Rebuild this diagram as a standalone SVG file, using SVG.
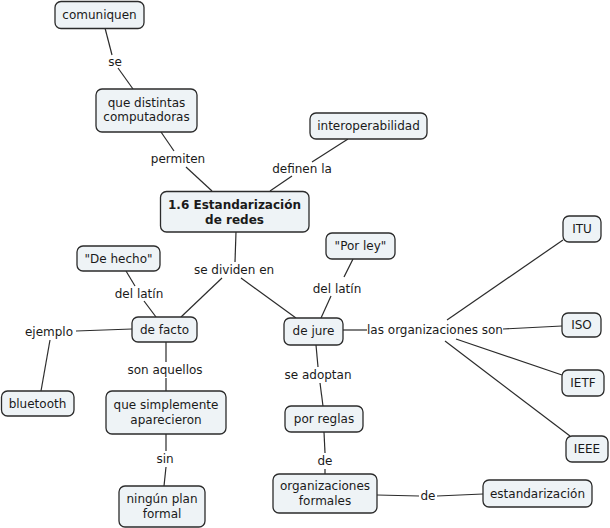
<svg xmlns="http://www.w3.org/2000/svg" width="610" height="528" viewBox="0 0 610 528">
<style>
.n rect{fill:#eef3f6;stroke:#2b2b2b;stroke-width:1.3}
text{font-family:"DejaVu Sans",Verdana,sans-serif;font-size:12px;fill:#1a1a1a;text-anchor:middle}
.b{font-weight:bold}
#c line{stroke:#2b2b2b;stroke-width:1.2}
</style>
<rect width="610" height="528" fill="#fff"/>
<g id="c">
<line x1="105" y1="28" x2="112" y2="55"/>
<line x1="118" y1="68" x2="133" y2="89"/>
<line x1="161" y1="132" x2="174" y2="151"/>
<line x1="186" y1="167" x2="212" y2="191"/>
<line x1="270" y1="191" x2="292" y2="176"/>
<line x1="312" y1="162" x2="348" y2="139"/>
<line x1="236" y1="232" x2="235" y2="262"/>
<line x1="222" y1="278" x2="181" y2="317"/>
<line x1="241" y1="278" x2="296" y2="318"/>
<line x1="126" y1="271" x2="135" y2="286"/>
<line x1="144" y1="301" x2="156" y2="317"/>
<line x1="353" y1="259" x2="344" y2="277"/>
<line x1="331" y1="296" x2="321" y2="318"/>
<line x1="132" y1="329" x2="76" y2="331"/>
<line x1="50" y1="340" x2="41" y2="391"/>
<line x1="166" y1="342" x2="166" y2="362"/>
<line x1="166" y1="378" x2="166" y2="391"/>
<line x1="166" y1="434" x2="166" y2="451"/>
<line x1="166" y1="467" x2="164" y2="486"/>
<line x1="343" y1="330" x2="367" y2="330"/>
<line x1="447" y1="320" x2="563" y2="240"/>
<line x1="503" y1="329" x2="562" y2="326"/>
<line x1="456" y1="339" x2="562" y2="375"/>
<line x1="445" y1="341" x2="570" y2="436"/>
<line x1="316" y1="345" x2="318" y2="367"/>
<line x1="320" y1="383" x2="323" y2="406"/>
<line x1="324" y1="432" x2="325" y2="453"/>
<line x1="325" y1="469" x2="325" y2="474"/>
<line x1="377" y1="495" x2="419" y2="496"/>
<line x1="437" y1="496" x2="483" y2="494"/>
</g>
<g id="labels">
<text x="115" y="66">se</text>
<text x="178" y="163">permiten</text>
<text x="302" y="173">definen la</text>
<text x="234" y="274">se dividen en</text>
<text x="139" y="298">del latín</text>
<text x="337" y="293">del latín</text>
<text x="49" y="336">ejemplo</text>
<text x="165" y="374">son aquellos</text>
<text x="165" y="463">sin</text>
<text x="435" y="334">las organizaciones son</text>
<text x="318" y="379">se adoptan</text>
<text x="325" y="465">de</text>
<text x="428" y="500">de</text>
</g>
<g id="n-comuniquen" class="n"><rect x="55" y="1.5" width="89" height="27" rx="6"/><text x="99.5" y="19">comuniquen</text></g>
<g id="n-computadoras" class="n"><rect x="96" y="89" width="101" height="43" rx="6"/><text x="146.5" y="107">que distintas</text><text x="146.5" y="121">computadoras</text></g>
<g id="n-main" class="n"><rect x="160.5" y="191.5" width="148.5" height="40.5" rx="6"/><text class="b" x="234.5" y="209">1.6 Estandarización</text><text class="b" x="234.5" y="224">de redes</text></g>
<g id="n-interop" class="n"><rect x="310" y="113" width="117" height="26" rx="6"/><text x="368.5" y="130">interoperabilidad</text></g>
<g id="n-porley" class="n"><rect x="326" y="233" width="69" height="26" rx="6"/><text x="360.5" y="250">"Por ley"</text></g>
<g id="n-itu" class="n"><rect x="563" y="216" width="38" height="26" rx="6"/><text x="582" y="233">ITU</text></g>
<g id="n-dehecho" class="n"><rect x="77" y="246" width="83" height="25" rx="6"/><text x="118.5" y="263">"De hecho"</text></g>
<g id="n-defacto" class="n"><rect x="132" y="317" width="65" height="25" rx="6"/><text x="164.5" y="334">de facto</text></g>
<g id="n-bluetooth" class="n"><rect x="1.5" y="391" width="72.5" height="25" rx="6"/><text x="37.5" y="408">bluetooth</text></g>
<g id="n-aparecieron" class="n"><rect x="106" y="391" width="120" height="43" rx="6"/><text x="166" y="409">que simplemente</text><text x="166" y="424">aparecieron</text></g>
<g id="n-ningun" class="n"><rect x="119" y="486" width="86" height="41" rx="6"/><text x="162" y="503">ningún plan</text><text x="162" y="518">formal</text></g>
<g id="n-dejure" class="n"><rect x="284" y="318" width="59" height="27" rx="6"/><text x="313.5" y="335">de jure</text></g>
<g id="n-iso" class="n"><rect x="562" y="313" width="39" height="24" rx="6"/><text x="581.5" y="329">ISO</text></g>
<g id="n-ietf" class="n"><rect x="562" y="370" width="42" height="26" rx="6"/><text x="583" y="387">IETF</text></g>
<g id="n-ieee" class="n"><rect x="566" y="436" width="42" height="26" rx="6"/><text x="587" y="453">IEEE</text></g>
<g id="n-porreglas" class="n"><rect x="285" y="406" width="78" height="26" rx="6"/><text x="324" y="423">por reglas</text></g>
<g id="n-orgformales" class="n"><rect x="273" y="474" width="104" height="39" rx="6"/><text x="325" y="490">organizaciones</text><text x="325" y="505">formales</text></g>
<g id="n-estandarizacion" class="n"><rect x="483" y="480" width="109" height="27" rx="6"/><text x="537.5" y="498">estandarización</text></g>
</svg>
